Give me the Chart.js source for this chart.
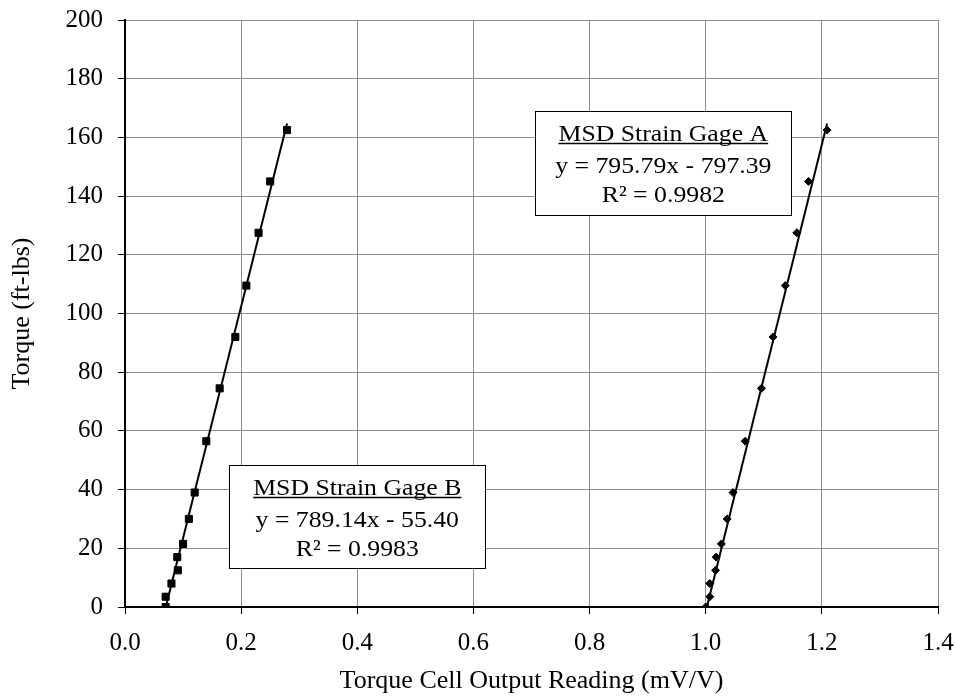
<!DOCTYPE html>
<html>
<head>
<meta charset="utf-8">
<title>Torque calibration</title>
<script src="https://cdn.jsdelivr.net/npm/chart.js@4"></script>
<style>
  html, body { margin: 0; padding: 0; background: #fff; }
  #wrap { width: 956px; height: 698px; }
</style>
</head>
<body>
<div id="wrap"><canvas id="torqueChart" width="956" height="698"></canvas></div>
<script>
// applied torque (ft-lbs), same load steps for both gages
const torque = [0, 3.5, 8, 12.5, 17, 21.5, 30, 39, 56.5, 74.5, 92, 109.5, 127.5, 145, 162.5];
// torque cell output (mV/V)
const gageB = [0.070, 0.070, 0.080, 0.091, 0.090, 0.100, 0.110, 0.120, 0.140, 0.163, 0.190, 0.209, 0.230, 0.250, 0.279];
const gageA = [1.000, 1.007, 1.007, 1.017, 1.018, 1.027, 1.037, 1.047, 1.068, 1.096, 1.116, 1.137, 1.157, 1.177, 1.209];

// linear fits
const fitA = { name: 'MSD Strain Gage A', slope: 795.79, intercept: -797.39, r2: 0.9982 };
const fitB = { name: 'MSD Strain Gage B', slope: 789.14, intercept: -55.40, r2: 0.9983 };

const FONT = 'Liberation Serif, Times New Roman, serif';

function points(xs) {
  return xs.map((x, i) => ({ x: x, y: torque[i] }));
}

function trend(xs, fit) {
  const lo = Math.min(...xs), hi = Math.max(...xs);
  return [lo, hi].map(x => ({ x: x, y: fit.slope * x + fit.intercept }));
}

function eqText(fit) {
  const sign = fit.intercept < 0 ? ' - ' : ' + ';
  return 'y = ' + fit.slope.toFixed(2) + 'x' + sign + Math.abs(fit.intercept).toFixed(2);
}

// text boxes with the fit equations (anchored in data units)
const boxes = [
  { fit: fitA, cx: 0.927, top: 169.1, w: 256, h: 104 },
  { fit: fitB, cx: 0.400, top: 48.4, w: 256, h: 103 }
];

const fitBoxes = {
  id: 'fitBoxes',
  afterDatasetsDraw(chart) {
    const ctx = chart.ctx;
    const xs = chart.scales.x, ys = chart.scales.y;
    const stretch = 1.12;
    ctx.save();
    boxes.forEach(b => {
      const cx = xs.getPixelForValue(b.cx);
      const top = Math.round(ys.getPixelForValue(b.top)) + 0.5;
      const left = Math.round(cx - b.w / 2) + 0.5;
      ctx.fillStyle = '#fff';
      ctx.fillRect(left, top, b.w, b.h);
      ctx.strokeStyle = '#000';
      ctx.lineWidth = 1;
      ctx.strokeRect(left, top, b.w, b.h);

      const lines = [b.fit.name, eqText(b.fit), 'R² = ' + b.fit.r2.toFixed(4)];
      const offs = [29, 61, 90];
      ctx.save();
      ctx.translate(cx, top);
      ctx.scale(stretch, 1);
      ctx.fillStyle = '#000';
      ctx.font = '23px ' + FONT;
      ctx.textAlign = 'center';
      ctx.textBaseline = 'alphabetic';
      lines.forEach((t, i) => ctx.fillText(t, 0, offs[i]));

      // underline the gage name
      const tw = ctx.measureText(lines[0]).width;
      ctx.beginPath();
      ctx.strokeStyle = '#000';
      ctx.lineWidth = 1.5;
      ctx.moveTo(-tw / 2, offs[0] + 3);
      ctx.lineTo(tw / 2, offs[0] + 3);
      ctx.stroke();
      ctx.restore();
    });
    ctx.restore();
  }
};

const ctx = document.getElementById('torqueChart').getContext('2d');
const torqueChart = new Chart(ctx, {
  type: 'scatter',
  data: {
    datasets: [
      {
        label: 'Gage B fit',
        data: trend(gageB, fitB),
        showLine: true,
        borderColor: '#000',
        borderWidth: 2,
        pointRadius: 0
      },
      {
        label: 'Gage A fit',
        data: trend(gageA, fitA),
        showLine: true,
        borderColor: '#000',
        borderWidth: 2,
        pointRadius: 0
      },
      {
        label: fitB.name,
        data: points(gageB),
        pointStyle: 'rect',
        pointRadius: 5,
        backgroundColor: '#000',
        borderColor: '#000',
        borderWidth: 1
      },
      {
        label: fitA.name,
        data: points(gageA),
        pointStyle: 'rectRot',
        pointRadius: 4,
        backgroundColor: '#000',
        borderColor: '#000',
        borderWidth: 1
      }
    ]
  },
  options: {
    responsive: false,
    animation: false,
    layout: { padding: { top: 20, right: 18, left: 0, bottom: 0 } },
    plugins: {
      legend: { display: false },
      tooltip: { enabled: false }
    },
    scales: {
      x: {
        type: 'linear',
        min: 0,
        max: 1.4,
        afterFit: s => { s.height = 91; s.paddingLeft = 0; s.paddingRight = 0; },
        border: { color: '#000', width: 2 },
        grid: { color: '#8c8c8c', lineWidth: 1, tickColor: '#000', tickLength: 7 },
        ticks: {
          stepSize: 0.2,
          padding: 14,
          color: '#000',
          font: { family: FONT, size: 25 },
          callback: v => v.toFixed(1)
        },
        title: {
          display: true,
          text: 'Torque Cell Output Reading (mV/V)',
          color: '#000',
          font: { family: FONT, size: 26 },
          padding: { top: 0, bottom: 1 }
        }
      },
      y: {
        min: 0,
        max: 200,
        afterFit: s => { s.width = 125; s.paddingTop = 0; s.paddingBottom = 0; },
        border: { color: '#000', width: 2 },
        grid: { color: '#8c8c8c', lineWidth: 1, tickColor: '#000', tickLength: 7 },
        ticks: {
          stepSize: 20,
          padding: 15,
          color: '#000',
          font: { family: FONT, size: 25 }
        },
        title: {
          display: true,
          text: 'Torque (ft-lbs)',
          color: '#000',
          font: { family: FONT, size: 26 },
          padding: { top: 7, bottom: 0 }
        }
      }
    }
  },
  plugins: [fitBoxes]
});
</script>
</body>
</html>
